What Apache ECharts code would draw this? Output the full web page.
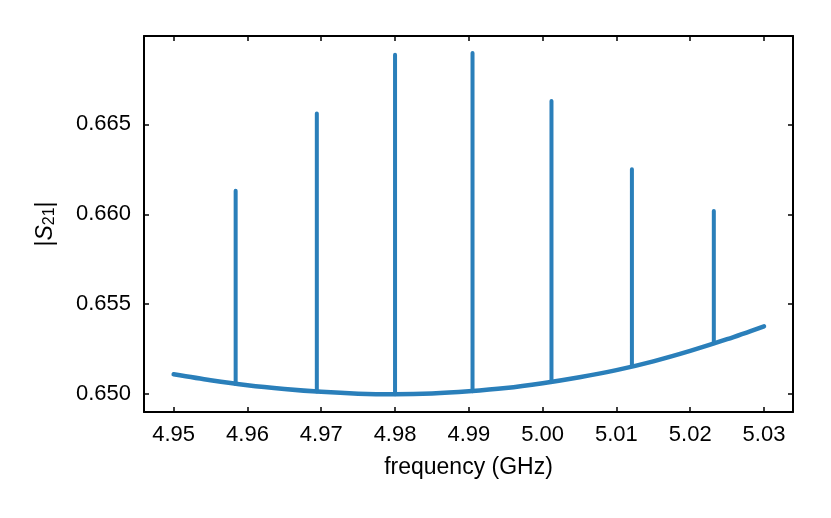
<!DOCTYPE html>
<html>
<head>
<meta charset="utf-8">
<script src="https://cdn.jsdelivr.net/npm/echarts@6/dist/echarts.min.js"></script>
<style>
  html, body { margin: 0; padding: 0; background: #fff; }
  #chart { width: 831px; height: 518px; }
</style>
</head>
<body>
<div id="chart"></div>
<script>
// baseline |S21|
var baseFreq = [4.950, 4.955, 4.960, 4.965, 4.970, 4.975, 4.980, 4.985, 4.990, 4.995, 5.000, 5.005, 5.010, 5.015, 5.020, 5.025, 5.030];
var baseVal  = [0.65110, 0.65077, 0.65049, 0.65028, 0.65012, 0.65002, 0.64999, 0.65003, 0.65015, 0.65033, 0.65060, 0.65093, 0.65133, 0.65182, 0.65240, 0.65305, 0.65377];
// narrow resonance spikes
var spikeFreq = [4.9584, 4.9694, 4.9800, 4.9905, 5.0012, 5.0121, 5.0232];
var spikeTop  = [0.66131, 0.66561, 0.66887, 0.66898, 0.66631, 0.66250, 0.66018];
var spikeBase = [0.65056, 0.65014, 0.64999, 0.65016, 0.65067, 0.65158, 0.65282];
// tick labels
var xTicks = [4.95, 4.96, 4.97, 4.98, 4.99, 5.00, 5.01, 5.02, 5.03];
var yTicks = [0.650, 0.655, 0.660, 0.665];

var baseData = baseFreq.map(function (f, i) { return [f, baseVal[i]]; });
var spikeData = [];
spikeFreq.forEach(function (f, i) {
    spikeData.push([f, spikeBase[i]]);
    spikeData.push([f, spikeTop[i]]);
    spikeData.push([f, null]);
});

var font = 'Liberation Sans, Arial, Helvetica, sans-serif';
var color = '#2a7fba';
var xMin = 4.94598, xMax = 5.03393, yMin = 0.64900, yMax = 0.66992;

function frameAxis(extra) {
    var a = {
        type: 'value',
        axisLine: { show: true, onZero: false, lineStyle: { color: '#000', width: 2 } },
        splitLine: { show: false },
        axisLabel: { show: false }
    };
    for (var k in extra) a[k] = extra[k];
    return a;
}
function ticks(vals) {
    return { show: true, inside: true, length: 5, customValues: vals, lineStyle: { color: '#000', width: 1.5 } };
}

var myChart = echarts.init(document.getElementById('chart'), null, { renderer: 'canvas' });
var option = {
    animation: false,
    backgroundColor: '#fff',
    grid: { left: 144, right: 38, top: 36, bottom: 106 },
    xAxis: [
        frameAxis({
            min: xMin, max: xMax, position: 'bottom',
            axisTick: ticks(xTicks),
            axisLabel: {
                show: true, customValues: xTicks, margin: 12,
                color: '#000', fontSize: 22, fontFamily: font,
                formatter: function (v) { return v.toFixed(2); }
            },
            name: 'frequency (GHz)', nameLocation: 'middle', nameGap: 44,
            nameTextStyle: { color: '#000', fontSize: 23, fontFamily: font }
        }),
        frameAxis({ min: xMin, max: xMax, position: 'top', axisTick: ticks(xTicks) })
    ],
    yAxis: [
        frameAxis({
            min: yMin, max: yMax, position: 'left',
            axisTick: ticks(yTicks),
            axisLabel: {
                show: true, customValues: yTicks, margin: 13,
                color: '#000', fontSize: 22, fontFamily: font,
                formatter: function (v) { return v.toFixed(3); }
            },
            name: '{n||}{s|S}{sub|21}{n||}', nameLocation: 'middle', nameGap: 86, nameRotate: 90,
            nameTextStyle: {
                color: '#000', fontSize: 23, fontFamily: font,
                rich: {
                    n: { fontSize: 23, fontFamily: font, color: '#000' },
                    s: { fontSize: 23, fontFamily: font, fontStyle: 'italic', color: '#000' },
                    sub: { fontSize: 16, fontFamily: font, color: '#000', verticalAlign: 'bottom', padding: [8, 0, 0, 0] }
                }
            }
        }),
        frameAxis({ min: yMin, max: yMax, position: 'right', axisTick: ticks(yTicks) })
    ],
    series: [{
        type: 'line',
        data: baseData,
        showSymbol: false,
        symbol: 'none',
        smooth: 0.3,
        lineStyle: { color: color, width: 4.5, cap: 'round', join: 'round' }
    }, {
        type: 'line',
        data: spikeData,
        showSymbol: false,
        symbol: 'none',
        connectNulls: false,
        lineStyle: { color: color, width: 4, cap: 'round', join: 'round' }
    }]
};
myChart.setOption(option);
</script>
</body>
</html>
